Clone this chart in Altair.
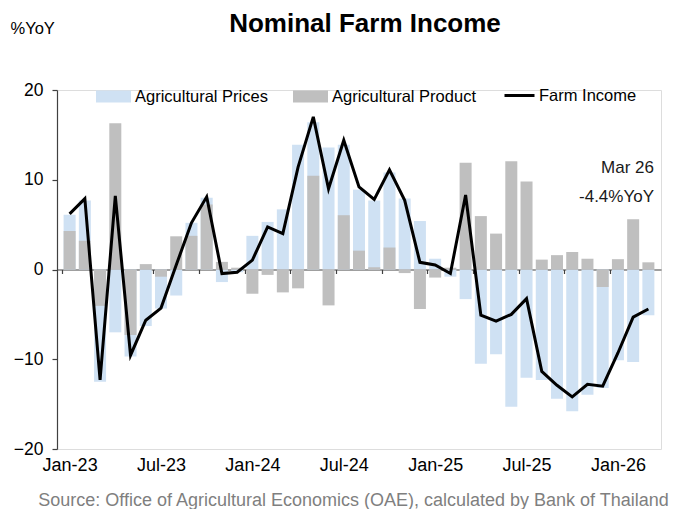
import altair as alt
import pandas as pd

months = ["Jan-23", "Feb-23", "Mar-23", "Apr-23", "May-23", "Jun-23", "Jul-23", "Aug-23",
          "Sep-23", "Oct-23", "Nov-23", "Dec-23", "Jan-24", "Feb-24", "Mar-24", "Apr-24",
          "May-24", "Jun-24", "Jul-24", "Aug-24", "Sep-24", "Oct-24", "Nov-24", "Dec-24",
          "Jan-25", "Feb-25", "Mar-25", "Apr-25", "May-25", "Jun-25", "Jul-25", "Aug-25",
          "Sep-25", "Oct-25", "Nov-25", "Dec-25", "Jan-26", "Feb-26", "Mar-26"]

prices = [6.1, 7.7, -12.5, -7.0, -9.7, -6.3, -4.35, -2.9, 5.2, 8.0, -1.4, -0.3,
          3.75, 5.3, 6.7, 13.9, 16.4, 13.6, 13.9, 8.9, 7.7, 10.8, 7.9, 5.4,
          1.2, -0.8, -3.3, -10.5, -9.45, -15.3, -12.05, -12.3, -14.4, -15.8, -13.95, -13.2,
          -10.1, -10.3, -5.1]

product = [4.3, 3.2, -4.05, 16.3, -7.3, 0.6, -0.8, 3.7, 3.75, 7.25, 0.85, 0.2,
           -2.7, -0.6, -2.55, -2.1, 10.45, -4.0, 6.05, 2.1, 0.25, 2.45, -0.4, -4.4,
           -0.9, 0.2, 11.9, 5.95, 4.0, 12.05, 9.8, 1.1, 1.6, 1.95, 1.2, -1.95,
           1.15, 5.6, 0.8]

income = [6.2, 7.9, -12.3, 8.2, -9.55, -5.65, -4.3, 0.5, 5.2, 8.1, -0.45, -0.3,
          1.05, 4.75, 4.0, 11.4, 17.0, 9.0, 14.4, 9.2, 7.8, 11.1, 7.7, 0.8,
          0.5, -0.45, 8.3, -5.1, -5.75, -5.0, -3.25, -11.35, -12.9, -14.2, -12.8, -13.0,
          -9.3, -5.3, -4.4]

series_names = ["Agricultural Prices", "Agricultural Product"]
line_name = "Farm Income"
y_ticks = [-20, -10, 0, 10, 20]
annotation = ["Mar 26", "-4.4%YoY"]
annotation_y = 10.7
source = "Source: Office of Agricultural Economics (OAE),  calculated by Bank of Thailand"

BLUE = "#cfe1f3"
GRAY = "#bfbfbf"
AXIS = "#404040"
FONT = "Liberation Sans"

N = len(months)
W, H = 604, 359

df = pd.DataFrame({
    "idx": list(range(N)),
    "month": months,
    series_names[0]: prices,
    series_names[1]: product,
    "income": income,
})

xscale = alt.Scale(domain=[-0.5, N - 0.5], nice=False, zero=False)
yscale = alt.Scale(domain=[-20, 20], nice=False, zero=False)

label_expr = "[" + ",".join("'%s'" % m for m in months) + "][datum.value]"

x_label_axis = alt.Axis(
    orient="bottom", values=list(range(0, N, 6)), labelExpr=label_expr,
    domain=False, ticks=False, grid=False, labelFontSize=18, labelColor="#000000",
    labelPadding=7, labelFont=FONT,
    title=source, titleFont=FONT, titleFontSize=18, titleFontWeight="normal",
    titleColor="#7f7f7f", titleX=W / 2 - 6, titleY=56, titleAlign="center",
    titleBaseline="alphabetic",
)

x_zero_axis = alt.Axis(
    orient="bottom", offset=-H / 2, values=list(range(0, N + 1, 3)),
    labels=False, domain=True, ticks=True, tickSize=4, tickOffset=-W / N / 2,
    domainColor=AXIS, tickColor=AXIS, domainWidth=1.2, tickWidth=1.2, grid=False, title=None,
)

y_axis = alt.Axis(
    values=y_ticks, grid=False, domain=True, domainColor=AXIS, tickColor=AXIS,
    domainWidth=1.2, tickWidth=1.2, tickSize=5, labelFontSize=17.5, labelPadding=9,
    labelColor="#000000", labelFont=FONT,
    title="%YoY", titleAngle=0, titleX=-47, titleY=-62, titleAlign="left",
    titleBaseline="middle", titleFontSize=16.5, titleFontWeight="normal", titleFont=FONT,
    titleColor="#000000",
)

bars = alt.Chart(df).transform_fold(
    series_names, as_=["series", "value"]
).mark_bar(size=12).encode(
    x=alt.X("idx:Q", scale=xscale, axis=x_label_axis),
    y=alt.Y("value:Q", scale=yscale, stack=None, axis=y_axis),
    color=alt.Color(
        "series:N",
        scale=alt.Scale(domain=series_names, range=[BLUE, GRAY]),
        legend=alt.Legend(
            orient="none", legendX=39, legendY=-11, direction="horizontal", title=None,
            symbolType="M-1,-0.34L1,-0.34L1,0.34L-1,0.34Z", symbolSize=1225,
            symbolStrokeWidth=0, labelFontSize=16.5, labelFont=FONT, labelOffset=4,
            columnPadding=25, labelColor="#000000",
        ),
    ),
    order=alt.Order("series:N"),
)

line = alt.Chart(df).transform_calculate(
    name="'%s'" % line_name
).mark_line(strokeWidth=3).encode(
    x=alt.X("idx:Q", scale=xscale, axis=x_zero_axis),
    y=alt.Y("income:Q", scale=yscale, axis=y_axis),
    stroke=alt.Stroke(
        "name:N",
        scale=alt.Scale(domain=[line_name], range=["#000000"]),
        legend=alt.Legend(
            orient="none", legendX=446, legendY=-11, title=None, symbolType="stroke",
            symbolSize=900, symbolStrokeWidth=3, labelFontSize=16.5, labelFont=FONT,
            labelOffset=3, labelColor="#000000",
        ),
    ),
)

text = alt.Chart(df).mark_text(
    text=annotation, align="right", baseline="alphabetic", lineHeight=29,
    fontSize=17, font=FONT, color="#1a1a1a", dx=-2,
).encode(
    x=alt.X(datum=N - 0.5, scale=xscale, axis=None),
    y=alt.Y(datum=annotation_y, scale=yscale, axis=y_axis),
).transform_filter(alt.datum.idx == N - 1)

chart = alt.layer(bars, line, text).resolve_axis(x="independent").properties(
    width=W, height=H,
    autosize=alt.AutoSizeParams(type="none"),
    padding={"left": 49, "top": 82, "right": 14, "bottom": 60},
    title=alt.TitleParams(
        "Nominal Farm Income", font=FONT, fontSize=26, fontWeight="bold",
        anchor="middle", frame="group", dx=6, dy=21, color="#000000",
    ),
).configure_view(stroke=None).configure(font=FONT)

chart.save("out.html", embed_options={"renderer": "svg", "actions": False})
